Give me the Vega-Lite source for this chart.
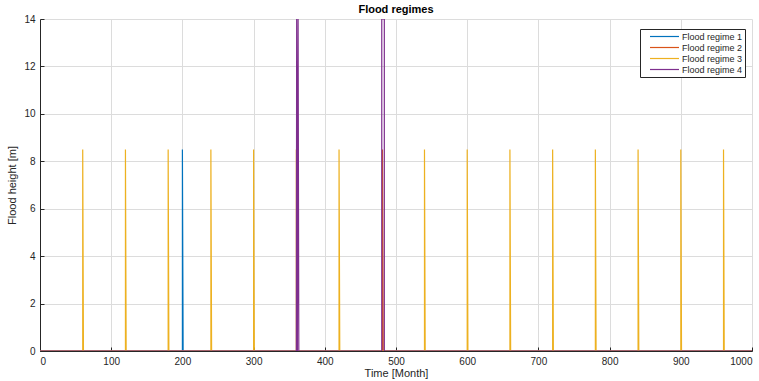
{
  "$schema": "https://vega.github.io/schema/vega-lite/v6.json",
  "width": 712,
  "height": 332,
  "autosize": {"type": "none"},
  "padding": {"left": 40, "top": 19, "right": 7, "bottom": 30},
  "background": "white",
  "title": {"text": "Flood regimes", "font": "Liberation Sans", "fontSize": 11, "fontWeight": "bold", "color": "black", "offset": -1},
  "config": {
    "view": {"stroke": null},
    "axis": {
      "labelFont": "Liberation Sans", "labelFontSize": 10, "labelColor": "#262626",
      "titleFont": "Liberation Sans", "titleFontSize": 11, "titleFontWeight": "normal", "titleColor": "#262626",
      "domainColor": "#262626", "tickColor": "#262626", "tickSize": -4, "labelPadding": 9,
      "gridColor": "#dcdcdc", "gridWidth": 1
    },
    "legend": {
      "labelFont": "Liberation Sans", "labelFontSize": 9, "labelColor": "#262626"
    }
  },
  "data": {
    "values": [
      {"i": 1, "t": 0, "h": 0, "regime": "Flood regime 1"},
      {"i": 2, "t": 200, "h": 0, "regime": "Flood regime 1"},
      {"i": 3, "t": 200, "h": 8.5, "regime": "Flood regime 1"},
      {"i": 4, "t": 201, "h": 0, "regime": "Flood regime 1"},
      {"i": 5, "t": 1000, "h": 0, "regime": "Flood regime 1"},

      {"i": 1, "t": 0, "h": 0, "regime": "Flood regime 2"},
      {"i": 2, "t": 481, "h": 0, "regime": "Flood regime 2"},
      {"i": 3, "t": 481, "h": 8.5, "regime": "Flood regime 2"},
      {"i": 4, "t": 482, "h": 0, "regime": "Flood regime 2"},
      {"i": 5, "t": 1000, "h": 0, "regime": "Flood regime 2"},

      {"i": 1, "t": 0, "h": 0, "regime": "Flood regime 3"},
      {"i": 2, "t": 60, "h": 0, "regime": "Flood regime 3"},
      {"i": 3, "t": 60, "h": 8.5, "regime": "Flood regime 3"},
      {"i": 4, "t": 61, "h": 0, "regime": "Flood regime 3"},
      {"i": 5, "t": 120, "h": 0, "regime": "Flood regime 3"},
      {"i": 6, "t": 120, "h": 8.5, "regime": "Flood regime 3"},
      {"i": 7, "t": 121, "h": 0, "regime": "Flood regime 3"},
      {"i": 8, "t": 180, "h": 0, "regime": "Flood regime 3"},
      {"i": 9, "t": 180, "h": 8.5, "regime": "Flood regime 3"},
      {"i": 10, "t": 181, "h": 0, "regime": "Flood regime 3"},
      {"i": 11, "t": 240, "h": 0, "regime": "Flood regime 3"},
      {"i": 12, "t": 240, "h": 8.5, "regime": "Flood regime 3"},
      {"i": 13, "t": 241, "h": 0, "regime": "Flood regime 3"},
      {"i": 14, "t": 300, "h": 0, "regime": "Flood regime 3"},
      {"i": 15, "t": 300, "h": 8.5, "regime": "Flood regime 3"},
      {"i": 16, "t": 301, "h": 0, "regime": "Flood regime 3"},
      {"i": 17, "t": 360, "h": 0, "regime": "Flood regime 3"},
      {"i": 18, "t": 360, "h": 8.5, "regime": "Flood regime 3"},
      {"i": 19, "t": 361, "h": 0, "regime": "Flood regime 3"},
      {"i": 20, "t": 420, "h": 0, "regime": "Flood regime 3"},
      {"i": 21, "t": 420, "h": 8.5, "regime": "Flood regime 3"},
      {"i": 22, "t": 421, "h": 0, "regime": "Flood regime 3"},
      {"i": 23, "t": 540, "h": 0, "regime": "Flood regime 3"},
      {"i": 24, "t": 540, "h": 8.5, "regime": "Flood regime 3"},
      {"i": 25, "t": 541, "h": 0, "regime": "Flood regime 3"},
      {"i": 26, "t": 600, "h": 0, "regime": "Flood regime 3"},
      {"i": 27, "t": 600, "h": 8.5, "regime": "Flood regime 3"},
      {"i": 28, "t": 601, "h": 0, "regime": "Flood regime 3"},
      {"i": 29, "t": 660, "h": 0, "regime": "Flood regime 3"},
      {"i": 30, "t": 660, "h": 8.5, "regime": "Flood regime 3"},
      {"i": 31, "t": 661, "h": 0, "regime": "Flood regime 3"},
      {"i": 32, "t": 720, "h": 0, "regime": "Flood regime 3"},
      {"i": 33, "t": 720, "h": 8.5, "regime": "Flood regime 3"},
      {"i": 34, "t": 721, "h": 0, "regime": "Flood regime 3"},
      {"i": 35, "t": 780, "h": 0, "regime": "Flood regime 3"},
      {"i": 36, "t": 780, "h": 8.5, "regime": "Flood regime 3"},
      {"i": 37, "t": 781, "h": 0, "regime": "Flood regime 3"},
      {"i": 38, "t": 840, "h": 0, "regime": "Flood regime 3"},
      {"i": 39, "t": 840, "h": 8.5, "regime": "Flood regime 3"},
      {"i": 40, "t": 841, "h": 0, "regime": "Flood regime 3"},
      {"i": 41, "t": 900, "h": 0, "regime": "Flood regime 3"},
      {"i": 42, "t": 900, "h": 8.5, "regime": "Flood regime 3"},
      {"i": 43, "t": 901, "h": 0, "regime": "Flood regime 3"},
      {"i": 44, "t": 960, "h": 0, "regime": "Flood regime 3"},
      {"i": 45, "t": 960, "h": 8.5, "regime": "Flood regime 3"},
      {"i": 46, "t": 961, "h": 0, "regime": "Flood regime 3"},
      {"i": 47, "t": 1000, "h": 0, "regime": "Flood regime 3"},

      {"i": 1, "t": 0, "h": 0, "regime": "Flood regime 4"},
      {"i": 2, "t": 360, "h": 0, "regime": "Flood regime 4"},
      {"i": 3, "t": 360.5, "h": 14, "regime": "Flood regime 4"},
      {"i": 4, "t": 361.5, "h": 0, "regime": "Flood regime 4"},
      {"i": 5, "t": 362.5, "h": 14, "regime": "Flood regime 4"},
      {"i": 6, "t": 363.5, "h": 0, "regime": "Flood regime 4"},
      {"i": 7, "t": 480, "h": 0, "regime": "Flood regime 4"},
      {"i": 8, "t": 480, "h": 14, "regime": "Flood regime 4"},
      {"i": 9, "t": 483.6, "h": 14, "regime": "Flood regime 4"},
      {"i": 10, "t": 483.6, "h": 0, "regime": "Flood regime 4"},
      {"i": 11, "t": 1000, "h": 0, "regime": "Flood regime 4"}
    ]
  },
  "mark": {"type": "line", "strokeWidth": 1.2, "clip": true, "strokeJoin": "miter"},
  "encoding": {
    "x": {"field": "t", "type": "quantitative", "title": "Time [Month]",
      "scale": {"domain": [0, 1000], "nice": false, "zero": false},
      "axis": {"values": [0,100,200,300,400,500,600,700,800,900,1000], "format": "d", "grid": true, "titlePadding": 1}},
    "y": {"field": "h", "type": "quantitative", "title": "Flood height [m]",
      "scale": {"domain": [0, 14], "nice": false},
      "axis": {"values": [0,2,4,6,8,10,12,14], "grid": true, "titlePadding": 6}},
    "order": {"field": "i", "type": "quantitative"},
    "color": {"field": "regime", "type": "nominal", "title": null,
      "scale": {"domain": ["Flood regime 1", "Flood regime 2", "Flood regime 3", "Flood regime 4"],
        "range": ["#0072BD", "#D95319", "#EDB120", "#7E2F8E"]},
      "legend": {"orient": "none", "legendX": 600, "legendY": 10, "symbolType": "M-3.22,0H3.22", "symbolSize": 81,
        "symbolStrokeWidth": 1.2, "strokeColor": "#262626", "fillColor": "white", "padding": 2,
        "rowPadding": -1, "labelOffset": 12, "symbolOffset": 17, "labelLimit": 200}}
  }
}
